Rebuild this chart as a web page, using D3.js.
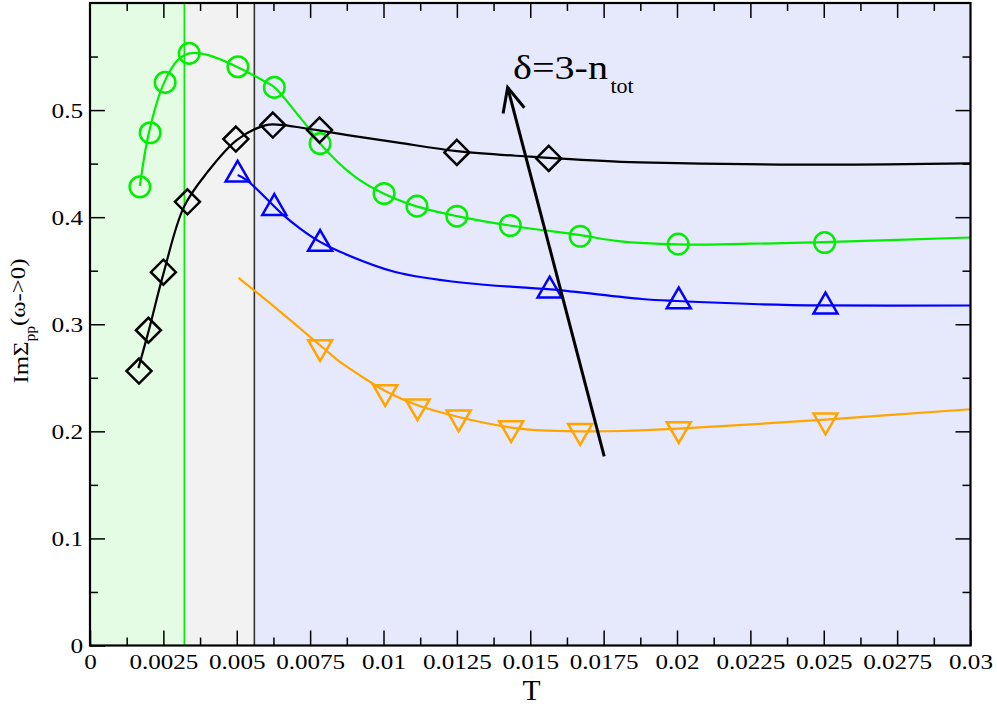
<!DOCTYPE html>
<html>
<head>
<meta charset="utf-8">
<script src="https://cdn.jsdelivr.net/npm/d3@7"></script>
<style>
  html, body { margin: 0; padding: 0; background: #ffffff; }
  svg { display: block; }
</style>
</head>
<body>
<svg id="chart" width="997" height="706"></svg>
<script>
// ---------------- data ----------------
const xTickValues = [0, 0.0025, 0.005, 0.0075, 0.01, 0.0125, 0.015, 0.0175, 0.02, 0.0225, 0.025, 0.0275, 0.03];
const xTickLabels = ["0", "0.0025", "0.005", "0.0075", "0.01", "0.0125", "0.015", "0.0175", "0.02", "0.0225", "0.025", "0.0275", "0.03"];
const yTickValues = [0, 0.1, 0.2, 0.3, 0.4, 0.5];
const yTickLabels = ["0", "0.1", "0.2", "0.3", "0.4", "0.5"];

// shaded temperature regions and their boundaries
const regionBounds = [0, 0.003215, 0.0056, 0.03];

// green circles
const greenT = [0.0017, 0.00205, 0.00256, 0.00338, 0.00504, 0.00628, 0.00784, 0.01002, 0.01114, 0.0125, 0.01432, 0.0167, 0.02004, 0.02503];
const greenV = [0.4283, 0.4788, 0.5259, 0.553, 0.5405, 0.5212, 0.4688, 0.4221, 0.4103, 0.4009, 0.3922, 0.3822, 0.3748, 0.3763];
// black diamonds
const blackT = [0.00167, 0.00199, 0.0025, 0.00332, 0.00497, 0.00623, 0.00782, 0.0125, 0.01563];
const blackV = [0.2563, 0.2944, 0.3486, 0.4143, 0.4729, 0.486, 0.4813, 0.4605, 0.4549];
// blue up-triangles
const blueT = [0.00503, 0.00628, 0.00784, 0.01566, 0.02006, 0.02506];
const blueV = [0.4397, 0.4086, 0.375, 0.3315, 0.3213, 0.3166];
// orange down-triangles
const orangeT = [0.00784, 0.01006, 0.01116, 0.01256, 0.01435, 0.0167, 0.02006, 0.02506];
const orangeV = [0.2787, 0.2366, 0.2233, 0.213, 0.203, 0.2003, 0.2021, 0.2101];

// fitted curves
const greenFitT = [0.0017, 0.002, 0.0025, 0.003, 0.0034, 0.004, 0.005, 0.006, 0.0063, 0.007, 0.0075, 0.0078, 0.009, 0.01, 0.0111, 0.0125, 0.0143, 0.0167, 0.018, 0.02, 0.0225, 0.025, 0.03];
const greenFitV = [0.4292, 0.478, 0.524, 0.547, 0.553, 0.5515, 0.5405, 0.526, 0.521, 0.4983, 0.4813, 0.47, 0.4383, 0.4221, 0.4103, 0.401, 0.3922, 0.3832, 0.3776, 0.3745, 0.3752, 0.3766, 0.381];
const blackFitT = [0.00165, 0.002, 0.0025, 0.0032, 0.004, 0.005, 0.006, 0.0065, 0.0072, 0.0078, 0.009, 0.0105, 0.0125, 0.015, 0.0181, 0.02, 0.025, 0.03];
const blackFitV = [0.259, 0.294, 0.347, 0.4096, 0.442, 0.472, 0.486, 0.4862, 0.4835, 0.481, 0.4757, 0.4696, 0.4617, 0.4565, 0.4517, 0.4505, 0.449, 0.4502];
const blueFitT = [0.00503, 0.00534, 0.00659, 0.00716, 0.00784, 0.00852, 0.0104, 0.0128, 0.0157, 0.0188, 0.02, 0.0228, 0.025, 0.03];
const blueFitV = [0.4393, 0.4346, 0.4019, 0.3894, 0.3769, 0.3676, 0.3488, 0.3385, 0.3325, 0.3236, 0.3217, 0.3187, 0.3176, 0.3175];
const orangeFitT = [0.00506, 0.00613, 0.00784, 0.00852, 0.0092, 0.01006, 0.01116, 0.01256, 0.01435, 0.01534, 0.0167, 0.0181, 0.02006, 0.02506, 0.03];
const orangeFitV = [0.3433, 0.3197, 0.2804, 0.2648, 0.2523, 0.2377, 0.2243, 0.2134, 0.2035, 0.2009, 0.2, 0.2003, 0.2025, 0.211, 0.2206];

// arrow (tail -> head) in data coordinates
const arrowT = [0.01752, 0.01423];
const arrowV = [0.1766, 0.5212];

// ---------------- font detection ----------------
function pickSerif() {
  const c = document.createElement("canvas").getContext("2d");
  const probe = "mmmmmmmmiiiiiWWWll0.0025";
  c.font = "40px monospace"; const wm = c.measureText(probe).width;
  c.font = "40px sans-serif"; const ws = c.measureText(probe).width;
  const cands = ["Liberation Serif", "Times New Roman", "Tinos", "Nimbus Roman", "Nimbus Roman No9 L", "Times", "DejaVu Serif", "Noto Serif"];
  for (const f of cands) {
    c.font = `40px "${f}", monospace`; const a = c.measureText(probe).width;
    c.font = `40px "${f}", sans-serif`; const b = c.measureText(probe).width;
    if (a !== wm && b !== ws) return `"${f}", serif`;
  }
  return "serif";
}
const FONT = pickSerif();

// ---------------- layout ----------------
const svg = d3.select("#chart");
const L = 90, R = 970.5, T0 = 3, B = 645.5;
const x = d3.scaleLinear().domain([0, 0.03]).range([L, R]);
const y = d3.scaleLinear().domain([0, 0.6]).range([B, T0]);

const regionColors = ["#e4fce4", "#f2f2f2", "#e6e8fc"];
const colors = { green: "#00ee00", black: "#000000", blue: "#0000ff", orange: "#ffa500" };

// backgrounds
svg.append("g").selectAll("rect").data(regionColors).join("rect")
  .attr("x", (d, i) => x(regionBounds[i]))
  .attr("y", T0)
  .attr("width", (d, i) => x(regionBounds[i + 1]) - x(regionBounds[i]))
  .attr("height", B - T0)
  .attr("fill", d => d);

// vertical boundary lines
const vlines = [{ t: regionBounds[1], c: "#00ee00" }, { t: regionBounds[2], c: "#333333" }];
svg.append("g").selectAll("line").data(vlines).join("line")
  .attr("x1", d => x(d.t)).attr("x2", d => x(d.t))
  .attr("y1", T0).attr("y2", B)
  .attr("stroke", d => d.c).attr("stroke-width", 1.6);

// curves
const line = d3.line().x(d => x(d[0])).y(d => y(d[1])).curve(d3.curveCatmullRom.alpha(0.5));
const fits = [
  { t: greenFitT, v: greenFitV, c: colors.green },
  { t: blueFitT, v: blueFitV, c: colors.blue },
  { t: orangeFitT, v: orangeFitV, c: colors.orange },
  { t: blackFitT, v: blackFitV, c: colors.black }
];
svg.append("g").selectAll("path").data(fits).join("path")
  .attr("d", d => line(d.t.map((t, i) => [t, d.v[i]])))
  .attr("fill", "none").attr("stroke", d => d.c).attr("stroke-width", 2.2);

// markers
const mg = svg.append("g").attr("fill", "none").attr("stroke-width", 2.5);
function pts(ts, vs) { return ts.map((t, i) => [t, vs[i]]); }
const triS = 12, triH = triS * Math.sqrt(3);
const triUp = `M0,${-2 * triH / 3}L${triS},${triH / 3}L${-triS},${triH / 3}Z`;
const triDown = `M0,${2 * triH / 3}L${triS},${-triH / 3}L${-triS},${-triH / 3}Z`;
const diamond = "M0,-12.5L12.5,0L0,12.5L-12.5,0Z";

mg.append("g").selectAll("circle").data(pts(greenT, greenV)).join("circle")
  .attr("cx", d => x(d[0])).attr("cy", d => y(d[1])).attr("r", 10.3)
  .attr("stroke", colors.green);
mg.append("g").selectAll("path").data(pts(blackT, blackV)).join("path")
  .attr("transform", d => `translate(${x(d[0])},${y(d[1])})`).attr("d", diamond)
  .attr("stroke", colors.black);
mg.append("g").selectAll("path").data(pts(blueT, blueV)).join("path")
  .attr("transform", d => `translate(${x(d[0])},${y(d[1])})`).attr("d", triUp)
  .attr("stroke", colors.blue);
mg.append("g").selectAll("path").data(pts(orangeT, orangeV)).join("path")
  .attr("transform", d => `translate(${x(d[0])},${y(d[1])})`).attr("d", triDown)
  .attr("stroke", colors.orange);

// arrow
{
  const x1 = x(arrowT[0]), y1 = y(arrowV[0]), x2 = x(arrowT[1]), y2 = y(arrowV[1]);
  const len = Math.hypot(x2 - x1, y2 - y1);
  const ux = (x2 - x1) / len, uy = (y2 - y1) / len;
  const px = -uy, py = ux;
  const hl = 24, hw = 11;
  const ag = svg.append("g").attr("stroke", "#000").attr("stroke-width", 3).attr("fill", "none");
  ag.append("line").attr("x1", x1).attr("y1", y1).attr("x2", x2).attr("y2", y2);
  ag.append("path").attr("d",
    `M${x2 - ux * hl + px * hw},${y2 - uy * hl + py * hw}L${x2},${y2}L${x2 - ux * hl - px * hw},${y2 - uy * hl - py * hw}`);
}

// arrow label
const lab = svg.append("g").style("font-family", FONT);
const labMain = lab.append("text").attr("x", 0).attr("y", 0).attr("font-size", 34).text("δ=3-n");
{
  const w = labMain.node().getComputedTextLength();
  labMain.attr("transform", `translate(513,79) scale(${95 / w},1)`);
}
lab.append("text").attr("x", 610.5).attr("y", 93.3).attr("font-size", 22).text("tot");

// axes
const axG = svg.append("g");
const majorLen = 15, minorLen = 8;
const xMinor = d3.range(1, 24, 2).map(i => i * 0.00125);
const yMinor = d3.range(1, 12, 2).map(i => i * 0.05);

const bottomAxis = axG.append("g").attr("transform", `translate(0,${B})`)
  .call(d3.axisBottom(x).tickValues(xTickValues).tickFormat((d, i) => xTickLabels[i]).tickSize(-majorLen).tickPadding(8.3));
axG.append("g").attr("transform", `translate(0,${B})`)
  .call(d3.axisBottom(x).tickValues(xMinor).tickFormat("").tickSize(-minorLen));
axG.append("g").attr("transform", `translate(0,${T0})`)
  .call(d3.axisTop(x).tickValues(xTickValues.slice(1, -1)).tickFormat("").tickSize(-majorLen));
axG.append("g").attr("transform", `translate(0,${T0})`)
  .call(d3.axisTop(x).tickValues(xMinor).tickFormat("").tickSize(-minorLen));

const leftAxis = axG.append("g").attr("transform", `translate(${L},0)`)
  .call(d3.axisLeft(y).tickValues(yTickValues).tickFormat((d, i) => yTickLabels[i]).tickSize(-majorLen).tickPadding(6));
axG.append("g").attr("transform", `translate(${L},0)`)
  .call(d3.axisLeft(y).tickValues(yMinor).tickFormat("").tickSize(-minorLen));
axG.append("g").attr("transform", `translate(${R},0)`)
  .call(d3.axisRight(y).tickValues(yTickValues.slice(1)).tickFormat("").tickSize(-majorLen));
axG.append("g").attr("transform", `translate(${R},0)`)
  .call(d3.axisRight(y).tickValues(yMinor).tickFormat("").tickSize(-minorLen));

axG.selectAll(".domain").remove();
axG.selectAll(".tick line").attr("stroke", "#000").attr("stroke-width", 1.5);
axG.selectAll(".tick text").style("font-family", FONT)
  .attr("font-size", 22).attr("fill", "#000");
bottomAxis.selectAll(".tick text").attr("transform", "scale(1.14,1)");
leftAxis.selectAll(".tick text").attr("transform", "scale(1.15,1)").attr("dy", "0.34em");

// frame
svg.append("rect").attr("x", L).attr("y", T0).attr("width", R - L).attr("height", B - T0)
  .attr("fill", "none").attr("stroke", "#000").attr("stroke-width", 2.2);

// axis titles
svg.append("text").style("font-family", FONT).attr("x", 531.5).attr("y", 699.5).attr("text-anchor", "middle")
  .attr("font-size", 29.5).text("T");

const yt = svg.append("text").style("font-family", FONT).attr("font-size", 22);
yt.append("tspan").text("ImΣ");
yt.append("tspan").attr("font-size", 14).attr("dy", 7).text("pp");
yt.append("tspan").attr("dy", -10).text("(ω->0)");
{
  const w = yt.node().getComputedTextLength();
  yt.attr("transform", `translate(27.5,383.5) rotate(-90) scale(${125 / w},1)`);
}
</script>
</body>
</html>
